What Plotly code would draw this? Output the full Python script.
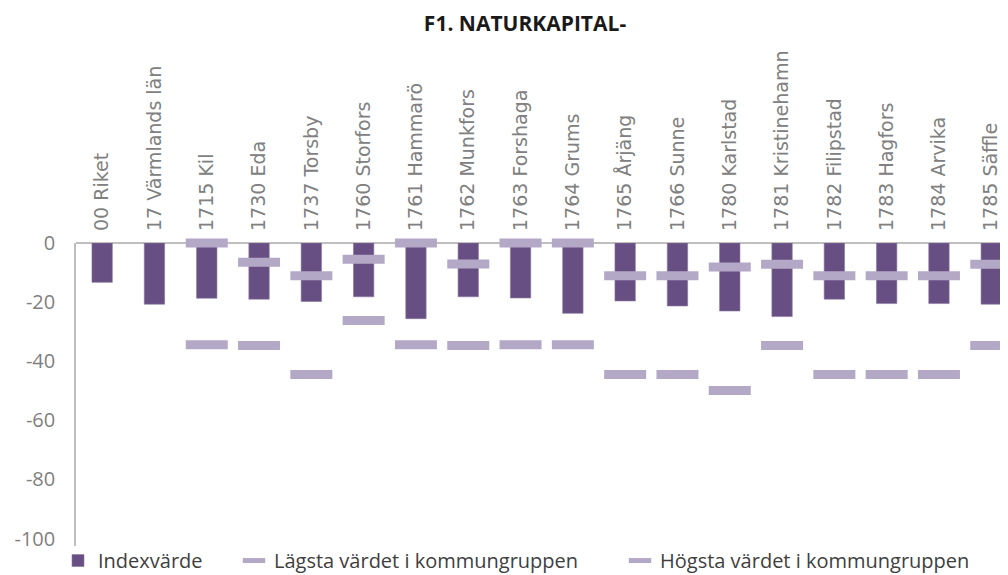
import plotly.graph_objects as go

categories = ["00 Riket", "17 Värmlands län", "1715 Kil", "1730 Eda", "1737 Torsby",
              "1760 Storfors", "1761 Hammarö", "1762 Munkfors", "1763 Forshaga",
              "1764 Grums", "1765 Årjäng", "1766 Sunne", "1780 Karlstad",
              "1781 Kristinehamn", "1782 Filipstad", "1783 Hagfors", "1784 Arvika",
              "1785 Säffle"]
indexvarde = [-13.3, -20.7, -18.7, -19.0, -19.8, -18.2, -25.6, -18.2, -18.6,
              -23.8, -19.6, -21.3, -23.0, -24.9, -19.0, -20.5, -20.5, -20.7]
lagsta = [None, None, -34.4, -34.7, -44.5, -26.2, -34.4, -34.7, -34.4,
          -34.4, -44.5, -44.5, -49.9, -34.7, -44.5, -44.5, -44.5, -34.7]
hogsta = [None, None, 0, -6.5, -11.1, -5.5, 0, -7.1, 0,
          0, -11.1, -11.1, -8.1, -7.2, -11.1, -11.1, -11.1, -7.2]
y_ticks = [0, -20, -40, -60, -80, -100]
y_ticktext = ["0", "-20", "-40", "-60", "-80", "-100"]

BAR = "#674F83"
DASH = "#B4A8C7"
xs = list(range(len(categories)))

fig = go.Figure()
fig.add_trace(go.Bar(x=xs, y=indexvarde, name="Indexvärde", width=0.39,
                     marker=dict(color=BAR, line=dict(color="#8a78a0", width=0.6)),
                     legend="legend"))
fig.add_trace(go.Scatter(x=xs, y=lagsta, name="Lägsta värdet i kommungruppen", mode="markers",
                         marker=dict(symbol="line-ew", size=30, color=DASH,
                                     line=dict(color=DASH, width=9)),
                         cliponaxis=False, legend="legend2"))
fig.add_trace(go.Scatter(x=xs, y=hogsta, name="Högsta värdet i kommungruppen", mode="markers",
                         marker=dict(symbol="line-ew", size=30, color=DASH,
                                     line=dict(color=DASH, width=9)),
                         cliponaxis=False, legend="legend3"))

leg_common = dict(orientation="h", yanchor="middle", y=-0.048, xanchor="left",
                  font=dict(family="Open Sans", size=20, color="#404040"),
                  bgcolor="rgba(0,0,0,0)", itemwidth=30)
fig.update_layout(
    width=1000, height=567,
    margin=dict(l=68, r=0, t=235, b=29, autoexpand=False),
    paper_bgcolor="white", plot_bgcolor="white",
    title=dict(text="<b>F1. NATURKAPITAL-</b>", x=0.517, xanchor="center", y=0.973, yanchor="middle",
               font=dict(family="Open Sans", size=21, color="#1a1a1a")),
    showlegend=True,
    legend=dict(**leg_common, x=-0.0193),
    legend2=dict(**leg_common, x=0.1695),
    legend3=dict(**leg_common, x=0.5837),
    bargap=0.6,
)
fig.update_xaxes(range=[-0.5, 17.32], side="top", tickmode="array", tickvals=xs, ticktext=categories,
                 tickangle=-90, tickfont=dict(family="DejaVu Sans", size=19, color="#808080"),
                 showgrid=False, zeroline=False, showline=False, ticks="",
                 ticklabelstandoff=11)
fig.update_yaxes(range=[-102.5, 0], tickmode="array", tickvals=y_ticks, ticktext=y_ticktext,
                 tickfont=dict(family="Open Sans", size=20, color="#7f7f7f"),
                 showgrid=False, zeroline=True, zerolinecolor="#bfbfbf", zerolinewidth=2,
                 showline=True, linecolor="#bfbfbf", linewidth=1.5, ticks="",
                 ticklabelstandoff=15)

fig.write_html("out.html")
